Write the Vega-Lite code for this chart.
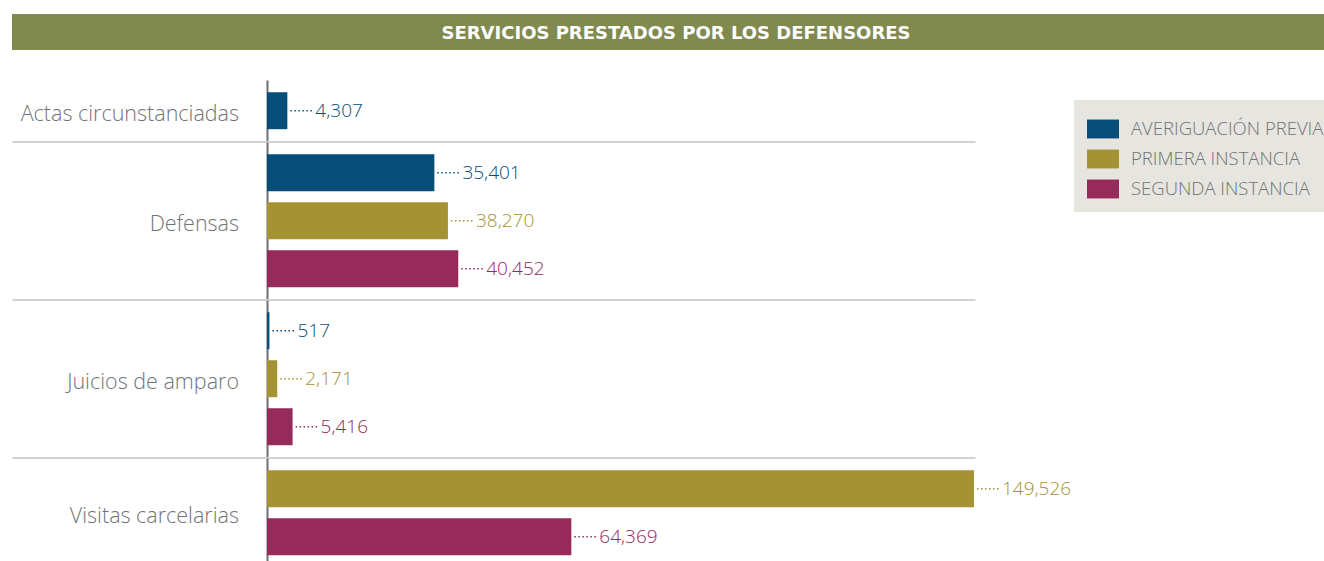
{
  "$schema": "https://vega.github.io/schema/vega-lite/v6.json",
  "padding": {"left": 12, "top": 14, "right": 0, "bottom": 0},
  "config": {
    "font": "Open Sans",
    "view": {"stroke": null},
    "concat": {"spacing": 30}
  },
  "vconcat": [
    {
      "width": 1312,
      "height": 36,
      "data": {"values": [{"titulo": "SERVICIOS PRESTADOS POR LOS DEFENSORES"}]},
      "layer": [
        {"mark": {"type": "rect", "color": "#80894e"}, "encoding": {}},
        {
          "mark": {"type": "text", "color": "white", "font": "DejaVu Sans", "fontSize": 18, "fontWeight": "bold", "baseline": "middle", "align": "center", "dx": 8, "dy": 2},
          "encoding": {"text": {"field": "titulo"}}
        }
      ]
    },
    {
      "data": {
        "values": [
          {"categoria": "Actas circunstanciadas", "serie": "Averiguación previa", "valor": 4307},
          {"categoria": "Defensas", "serie": "Averiguación previa", "valor": 35401},
          {"categoria": "Defensas", "serie": "Primera Instancia", "valor": 38270},
          {"categoria": "Defensas", "serie": "Segunda Instancia", "valor": 40452},
          {"categoria": "Juicios de amparo", "serie": "Averiguación previa", "valor": 517},
          {"categoria": "Juicios de amparo", "serie": "Primera Instancia", "valor": 2171},
          {"categoria": "Juicios de amparo", "serie": "Segunda Instancia", "valor": 5416},
          {"categoria": "Visitas carcelarias", "serie": "Primera Instancia", "valor": 149526},
          {"categoria": "Visitas carcelarias", "serie": "Segunda Instancia", "valor": 64369}
        ]
      },
      "facet": {
        "row": {
          "field": "categoria",
          "type": "nominal",
          "title": null,
          "header": {
            "labelOrient": "left",
            "labelAngle": 0,
            "labelAlign": "left",
            "labelBaseline": "line-top",
            "labelLineHeight": 8,
            "labelFontSize": 21.5,
            "labelFontWeight": 300,
            "labelColor": "#727376",
            "labelPadding": -227
          }
        }
      },
      "spacing": 0,
      "resolve": {"scale": {"y": "independent"}, "axis": {"x": "independent"}},
      "spec": {
        "width": 963,
        "height": {"step": 48},
        "encoding": {
          "y": {
            "field": "serie",
            "type": "nominal",
            "scale": {"paddingInner": 0.23, "paddingOuter": 0.255},
            "axis": null
          },
          "x": {
            "field": "valor",
            "type": "quantitative",
            "scale": {"domain": [-53930, 149740], "nice": false, "zero": false},
            "axis": {"title": null, "values": [0], "labels": false, "ticks": false, "grid": true, "gridColor": "#6d6e71", "gridWidth": 2, "gridOpacity": 1, "domainColor": "#d2d2d2", "domainWidth": 2}
          },
          "color": {
            "field": "serie",
            "type": "nominal",
            "scale": {"domain": ["Averiguación previa", "Primera Instancia", "Segunda Instancia"], "range": ["#064e78", "#a59233", "#952a5b"]},
            "legend": {
              "title": null,
              "orient": "none",
              "legendX": 1062,
              "legendY": 86,
              "fillColor": "#e6e5df",
              "padding": 13,
              "symbolType": "M-1,-0.59H1V0.59H-1Z",
              "symbolSize": 1024,
              "symbolStrokeWidth": 0,
              "symbolOpacity": 1,
              "rowPadding": 4,
              "labelOffset": 12,
              "labelFontSize": 18.5,
              "labelFontWeight": 300,
              "labelColor": "#727376",
              "labelExpr": "upper(datum.label)",
              "labelLimit": 400
            }
          }
        },
        "layer": [
          {"mark": {"type": "bar"}, "encoding": {"x2": {"datum": 0}}},
          {
            "mark": {"type": "rule", "strokeDash": [1.5, 2.5], "strokeWidth": 1.5, "xOffset": 3, "x2Offset": 26},
            "encoding": {"x2": {"field": "valor"}}
          },
          {
            "mark": {"type": "text", "align": "left", "baseline": "middle", "dx": 28, "fontSize": 19, "fontWeight": 300},
            "encoding": {"text": {"field": "valor", "type": "quantitative", "format": ","}}
          }
        ]
      }
    }
  ]
}
